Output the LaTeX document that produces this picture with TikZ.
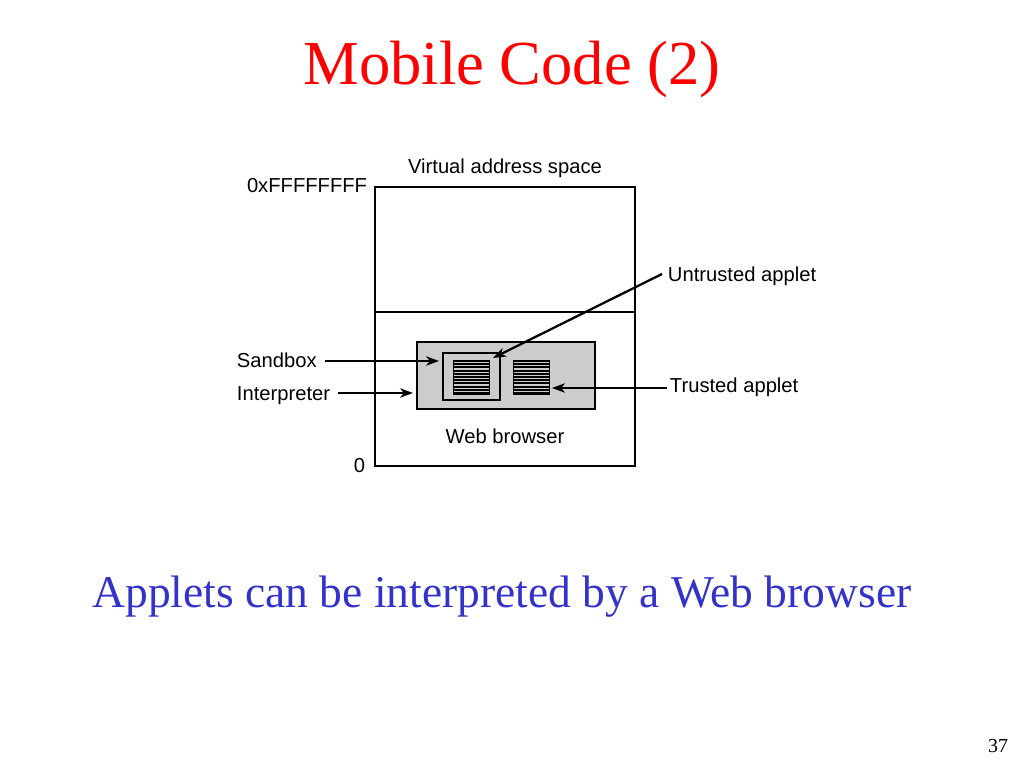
\documentclass[tikz,border=0pt]{standalone}
\usepackage{fontspec}
\setmainfont{Liberation Serif}
\setsansfont{Liberation Sans}
\usepackage{tikz}
\usetikzlibrary{arrows.meta}
\usetikzlibrary{positioning, fit, calc}
\definecolor{titlered}{RGB}{255,0,0}
\definecolor{capblue}{RGB}{51,51,204}
\definecolor{boxgray}{RGB}{204,204,204}

\begin{document}
\begin{tikzpicture}[x=0.703125pt,y=-0.703125pt,->,>={Stealth[length=9pt,width=6.5pt,inset=2.5pt]},line width=1.6pt,
  box/.style={draw,-,inner sep=0pt,fit={#1}},
  lbl/.style={inner sep=2pt,font=\fontsize{14.2}{17}\selectfont\sffamily},
  hatch/.style={draw,-,line width=0.7pt,inner sep=0pt,fit={#1}}]
  \useasboundingbox (0,0) rectangle (1024,768);
  \node[font=\fontsize{44}{50}\selectfont,text=titlered,anchor=base] (title) at (512,85) {Mobile Code (2)};
  \node[font=\fontsize{32}{38}\selectfont,text=capblue,anchor=base] (caption) at (502,607) {Applets can be interpreted by a Web browser};
  \node[font=\fontsize{14}{16}\selectfont,anchor=base east] (page) at (1014,752) {37};

  % address space
  \node[box={(375,187)(635,466)}] (vas) {};
  \coordinate (divl) at (375,312);
  \coordinate (divr) at (635,312);
  \draw[-] (divl) -- (divr);
  \node[box={(417,342)(595,409)},fill=boxgray] (browser) {};
  \node[box={(443,353)(500,400)},line width=2.1pt] (sandbox) {};
  \node[hatch={(453,360)(489,394)}] (untr) {};
  \node[hatch={(513,360)(549,394)}] (tr) {};
  \foreach \blk in {untr,tr}
    \foreach \i in {0,...,10}
      \draw[-,line width=1.35pt] ($(\blk.north west)!{(\i+0.5)/11}!(\blk.south west)$) -- ($(\blk.north east)!{(\i+0.5)/11}!(\blk.south east)$);

  % labels
  \node[lbl,anchor=base] (vaslbl) at (505,174) {Virtual address space};
  \node[lbl,anchor=base east] (top) at (371,193) {0xFFFFFFFF};
  \node[lbl,anchor=base east] (bot) at (369,472) {0};
  \node[lbl,anchor=base] (wblbl) at (505,443) {Web browser};
  \node[lbl,anchor=base west] (lsand) at (233,367) {Sandbox};
  \node[lbl,anchor=base west] (linterp) at (233,400) {Interpreter};
  \node[lbl,anchor=base west] (luntr) at (664,282) {Untrusted applet};
  \node[lbl,anchor=base west] (ltr) at (666,392) {Trusted applet};

  % arrow ends
  \coordinate (sandtip) at (439,361);
  \coordinate (interptip) at (413,393);
  \coordinate (untrtip) at (493,358);
  \coordinate (trtip) at (552,388);
  \coordinate (sandtail) at (325,361);
  \coordinate (interptail) at (338,393);
  \coordinate (untrtail) at (662,274);
  \coordinate (trtail) at (667,388);

  \draw (sandtail) -- (sandtip);
  \draw (interptail) -- (interptip);
  \draw (untrtail) -- (untrtip);
  \draw (trtail) -- (trtip);
\end{tikzpicture}
\end{document}
